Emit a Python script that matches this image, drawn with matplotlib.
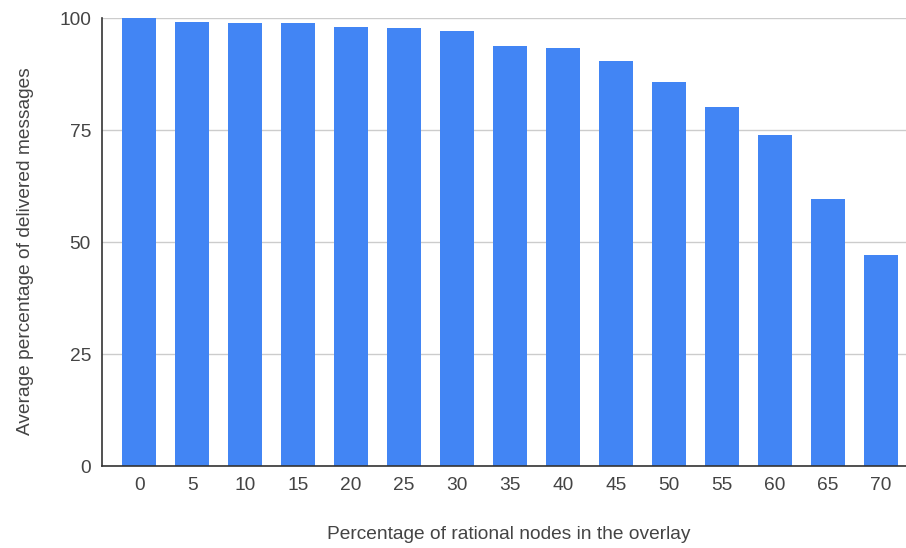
import matplotlib
matplotlib.use("Agg")
import matplotlib.pyplot as plt

rational_pct = [0, 5, 10, 15, 20, 25, 30, 35, 40, 45, 50, 55, 60, 65, 70]
delivered_pct = [99.9, 99.2, 98.9, 98.9, 98.1, 97.7, 97.1, 93.8, 93.4, 90.5,
                 85.8, 80.1, 74.0, 59.7, 47.0]
y_ticks = [0, 25, 50, 75, 100]

BAR_COLOR = "#4285F4"
TEXT_COLOR = "#444444"
FONT_SIZE = 13.8

plt.rcParams["font.family"] = ["Liberation Sans", "DejaVu Sans"]

fig = plt.figure(figsize=(9.06, 5.48), dpi=100)
ax = fig.add_axes([0.1126, 0.1496, 0.8874, 0.8175])

x = list(range(len(rational_pct)))
ax.bar(x, delivered_pct, width=0.64, color=BAR_COLOR, zorder=3)

ax.set_xlim(-0.7, 14.48)
ax.set_ylim(0, 100)
ax.set_yticks(y_ticks)
ax.set_xticks(x)
ax.set_xticklabels([str(v) for v in rational_pct])
ax.tick_params(axis="both", length=0, labelsize=FONT_SIZE, colors=TEXT_COLOR)
ax.tick_params(axis="x", pad=8)
ax.tick_params(axis="y", pad=8)

ax.grid(axis="y", color="#cccccc", linewidth=1, zorder=0)
for side in ("top", "right"):
    ax.spines[side].set_visible(False)
for side in ("left", "bottom"):
    ax.spines[side].set_color("#333333")
    ax.spines[side].set_linewidth(1.2)
    ax.spines[side].set_zorder(4)

ax.set_xlabel("Percentage of rational nodes in the overlay", fontsize=FONT_SIZE,
              color=TEXT_COLOR)
ax.set_ylabel("Average percentage of delivered messages", fontsize=FONT_SIZE,
              color=TEXT_COLOR)
ax.xaxis.set_label_coords(0.506, -0.135)
ax.yaxis.set_label_coords(-0.084, 0.48)

fig.savefig("out.png", dpi=100)
